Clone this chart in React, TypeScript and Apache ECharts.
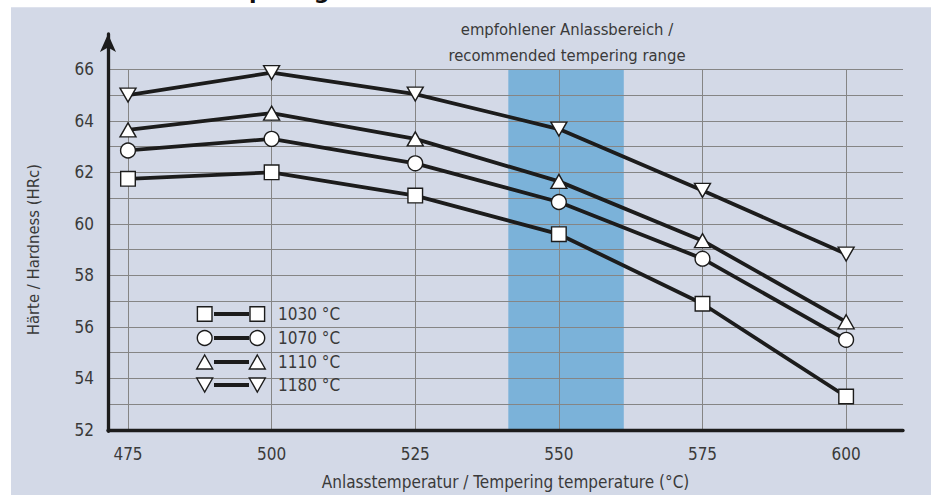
import React, { useEffect, useRef } from "react";
import * as echarts from "echarts";

// Tempering temperatures (°C)
const temperatures = [475, 500, 525, 550, 575, 600];
// Hardness after tempering (HRc), one list per hardening temperature
const hardness1030 = [61.75, 62.0, 61.1, 59.6, 56.9, 53.3];
const hardness1070 = [62.85, 63.3, 62.35, 60.85, 58.65, 55.5];
const hardness1110 = [63.65, 64.3, 63.3, 61.65, 59.35, 56.2];
const hardness1180 = [65.0, 65.87, 65.04, 63.68, 61.3, 58.83];
const seriesNames = ["1030 °C", "1070 °C", "1110 °C", "1180 °C"];
// Recommended tempering range (°C)
const temperingRange = [541.2, 561.3];
const yLabelTicks = [52, 54, 56, 58, 60, 62, 64, 66];
const yGridTicks = [52, 53, 54, 55, 56, 57, 58, 59, 60, 61, 62, 63, 64, 65, 66];

const FONT = "'DejaVu Sans Condensed', 'Liberation Sans Narrow', sans-serif";
const TEXT = "#3a3a3a";
const INK = "#1c1c1c";

export default function App() {
  const ref = useRef<HTMLDivElement>(null);

  useEffect(() => {
    document.body.style.margin = "0";
    const chart = echarts.init(ref.current!, null, { renderer: "svg" });

    const markerStyle = { color: "#ffffff", borderColor: INK, borderWidth: 1.4 };
    const lineStyle = { color: INK, width: 3.8 };
    const mk = (name: string, values: number[], symbol: string, size: any, rotate = 0) => ({
      name,
      type: "line",
      xAxisIndex: 0,
      yAxisIndex: 0,
      z: 3,
      data: temperatures.map((t, i) => [t, values[i]]),
      symbol,
      symbolSize: size,
      symbolRotate: rotate,
      showAllSymbol: true,
      lineStyle,
      itemStyle: markerStyle,
    });

    // legend glyphs: marker — line — marker
    const legendRows = [
      { y: 314, kind: "square" },
      { y: 338, kind: "circle" },
      { y: 362, kind: "up" },
      { y: 385, kind: "down" },
    ];
    const glyph = (kind: string, cx: number, cy: number) => {
      const style = { fill: "#ffffff", stroke: INK, lineWidth: 1.4 };
      if (kind === "square") return { type: "rect", shape: { x: cx - 7.3, y: cy - 7.3, width: 14.6, height: 14.6 }, style };
      if (kind === "circle") return { type: "circle", shape: { cx, cy, r: 7.4 }, style };
      if (kind === "up")
        return { type: "polygon", shape: { points: [[cx, cy - 7], [cx + 8, cy + 7], [cx - 8, cy + 7]] }, style };
      return { type: "polygon", shape: { points: [[cx - 8, cy - 7], [cx + 8, cy - 7], [cx, cy + 7]] }, style };
    };
    const legendGraphics: any[] = [];
    legendRows.forEach((row, i) => {
      legendGraphics.push({
        type: "line",
        shape: { x1: 214, y1: row.y, x2: 249, y2: row.y },
        style: { stroke: INK, lineWidth: 3.8 },
        z: 10,
      });
      legendGraphics.push({ ...glyph(row.kind, 204.7, row.y), z: 11 });
      legendGraphics.push({ ...glyph(row.kind, 257.3, row.y), z: 11 });
      legendGraphics.push({
        type: "text",
        x: 278,
        y: row.y,
        z: 11,
        style: { text: seriesNames[i], fill: TEXT, font: `17px ${FONT}`, textVerticalAlign: "middle" },
      });
    });

    chart.setOption({
      animation: false,
      backgroundColor: "#ffffff",
      textStyle: { fontFamily: FONT },
      grid: [
        { left: 108, right: 28, top: 69.3, bottom: 63.7 },
        { left: 108, width: 1, top: 34, bottom: 63.7 },
      ],
      xAxis: [
        {
          type: "value",
          gridIndex: 0,
          min: 471.52,
          max: 609.9,
          z: 2,
          name: "Anlasstemperatur / Tempering temperature (°C)",
          nameLocation: "middle",
          nameGap: 43,
          nameTextStyle: { color: TEXT, fontSize: 17, fontFamily: FONT },
          axisLine: { show: true, onZero: false, lineStyle: { color: INK, width: 3.3 } },
          axisTick: { show: false, customValues: temperatures },
          axisLabel: { customValues: temperatures, color: TEXT, fontSize: 17, fontFamily: FONT, margin: 15 },
          splitLine: { show: true, lineStyle: { color: "#858585", width: 1 } },
        },
        { type: "value", gridIndex: 1, show: false, min: 0, max: 1 },
      ],
      yAxis: [
        {
          type: "value",
          gridIndex: 0,
          min: 52,
          max: 66,
          z: 2,
          name: "Härte / Hardness (HRc)",
          nameLocation: "middle",
          nameGap: 66,
          nameTextStyle: { color: TEXT, fontSize: 16.5, fontFamily: FONT },
          axisLine: { show: false },
          axisTick: { show: false, customValues: yGridTicks },
          axisLabel: { customValues: yLabelTicks, color: TEXT, fontSize: 17, fontFamily: FONT, margin: 14 },
          splitLine: { show: true, lineStyle: { color: "#858585", width: 1 } },
        },
        {
          type: "value",
          gridIndex: 1,
          min: 0,
          max: 1,
          z: 4,
          axisLine: {
            show: true,
            onZero: false,
            symbol: ["none", "arrow"],
            symbolSize: [12, 18],
            lineStyle: { color: INK, width: 3.3 },
          },
          axisTick: { show: false },
          axisLabel: { show: false },
          splitLine: { show: false },
        },
      ],
      series: [
        {
          type: "line",
          xAxisIndex: 0,
          yAxisIndex: 0,
          data: [],
          z: 1,
          markArea: {
            silent: true,
            z: 1,
            itemStyle: { color: "#7bb2d9", opacity: 1 },
            data: [[{ xAxis: temperingRange[0] }, { xAxis: temperingRange[1] }]],
          },
        },
        mk(seriesNames[0], hardness1030, "rect", [14.6, 14.6]),
        mk(seriesNames[1], hardness1070, "circle", 14.8),
        mk(seriesNames[2], hardness1110, "triangle", [16, 14]),
        mk(seriesNames[3], hardness1180, "triangle", [16, 14], 180),
      ],
      graphic: [
        {
          type: "rect",
          z: -10,
          silent: true,
          shape: { x: 11, y: 7.3, width: 931 - 11, height: 495 - 7.3 },
          style: { fill: "#d3d9e7" },
        },
        {
          type: "text",
          x: 199,
          y: 2,
          z: 5,
          style: {
            text: "Tempering",
            fill: "#111111",
            font: `bold 22px 'DejaVu Sans', sans-serif`,
            textVerticalAlign: "bottom",
          },
        },
        {
          type: "text",
          x: 567,
          y: 29,
          z: 5,
          style: {
            text: "empfohlener Anlassbereich /",
            fill: TEXT,
            font: `16.5px ${FONT}`,
            textAlign: "center",
            textVerticalAlign: "middle",
          },
        },
        {
          type: "text",
          x: 567,
          y: 55,
          z: 5,
          style: {
            text: "recommended tempering range",
            fill: TEXT,
            font: `16.5px ${FONT}`,
            textAlign: "center",
            textVerticalAlign: "middle",
          },
        },
        ...legendGraphics,
      ],
    });

    return () => chart.dispose();
  }, []);

  return <div ref={ref} style={{ width: 931, height: 495 }} />;
}
